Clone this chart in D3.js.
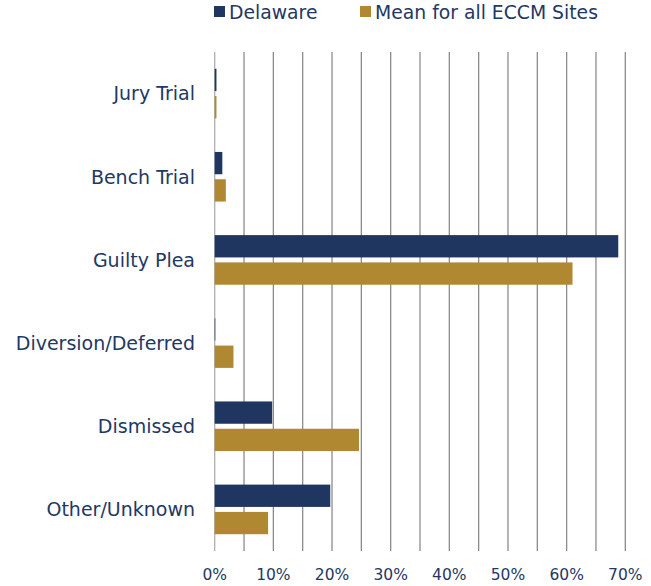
<!DOCTYPE html>
<html><head><meta charset="utf-8">
<script src="https://cdn.jsdelivr.net/npm/d3@7"></script>
<style>body{margin:0;background:#fff}text{font-family:"DejaVu Sans",Verdana,sans-serif}</style>
</head><body><svg id="c" width="651" height="586"></svg>
<script>
const categories = ["Jury Trial","Bench Trial","Guilty Plea","Diversion/Deferred","Dismissed","Other/Unknown"];
const delaware = [0.3, 1.3, 68.8, 0.1, 9.8, 19.7];
const meanAll = [0.3, 1.9, 61.0, 3.2, 24.6, 9.1];
const seriesNames = ["Delaware","Mean for all ECCM Sites"];
const tickValues = [0,10,20,30,40,50,60,70];
const gridValues = [0,5,10,15,20,25,30,35,40,45,50,55,60,65,70];

const navy = "#1f3660", gold = "#b08832", textCol = "#1f3864";
const svg = d3.select("#c");
const x = d3.scaleLinear().domain([0,70]).range([214.7,625.3]);
const y = d3.scaleBand().domain(categories).range([52,551]);
const step = y.step();
const barH = 22.3, gap = 5;

svg.append("g").selectAll("line").data(gridValues).join("line")
  .attr("x1",d=>x(d)).attr("x2",d=>x(d)).attr("y1",52).attr("y2",551)
  .attr("stroke", (d,i)=> i===0 ? "#b0b0b0" : "#8c8c8c").attr("stroke-width",1.3);

const g = svg.append("g");
const series = [delaware, meanAll], cols = [navy, gold];
series.forEach((vals, si) => {
  g.selectAll(null).data(categories).join("rect")
    .attr("x", x(0))
    .attr("y", (c)=> y(c) + step/2 - barH - gap/2 + si*(barH+gap))
    .attr("width", (c,i)=> Math.max(0, x(vals[i]) - x(0)))
    .attr("height", barH)
    .attr("fill", cols[si]);
});

svg.append("g").selectAll("text").data(categories).join("text")
  .attr("x",195).attr("y",c=>y(c)+step/2).attr("dy","0.36em")
  .attr("text-anchor","end").attr("fill",textCol).attr("font-size",19)
  .text(d=>d);

svg.append("g").selectAll("text").data(tickValues).join("text")
  .attr("x",d=>x(d)).attr("y",580).attr("text-anchor","middle")
  .attr("fill",textCol).attr("font-size",15.5).text(d=>d+"%");

const leg = [{x:214,c:navy},{x:360,c:gold}];
leg.forEach((l,i)=>{
  svg.append("rect").attr("x",l.x).attr("y",6).attr("width",11).attr("height",11).attr("fill",l.c);
  svg.append("text").attr("x",l.x+15).attr("y",19).attr("fill",textCol).attr("font-size",18.8).text(seriesNames[i]);
});
</script></body></html>
